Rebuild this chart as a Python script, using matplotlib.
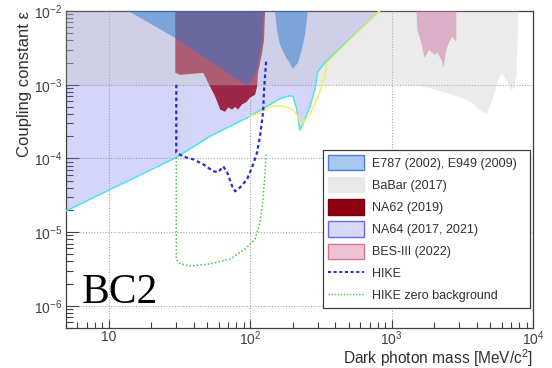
import matplotlib
matplotlib.use('Agg')
import matplotlib.pyplot as plt
from matplotlib.patches import Patch
from matplotlib.lines import Line2D

plt.rcParams['font.family'] = ['Liberation Sans', 'DejaVu Sans']
plt.rcParams['mathtext.fontset'] = 'custom'
plt.rcParams['mathtext.rm'] = 'Liberation Sans'
plt.rcParams['mathtext.it'] = 'Liberation Sans:italic'
plt.rcParams['mathtext.bf'] = 'Liberation Sans:bold'

# ---- data (mass in MeV, coupling eps) ----
# NA64 exclusion: lower edge (cyan line), region extends up to the top
na64_m = [5, 30.1, 52.2, 100, 138, 162.6, 191, 201, 214, 225, 244, 265, 287, 301, 337, 822]
na64_eps = [1.94e-5, 1.03e-4, 2.0e-4, 3.73e-4, 5.37e-4, 6.47e-4, 7.1e-4, 6.9e-4, 4.6e-4,
            2.41e-4, 3.37e-4, 5.05e-4, 8.6e-4, 1.5e-3, 1.98e-3, 1e-2]
# second (yellow) NA64 curve
na64b_m = [100, 117.5, 145, 176, 201, 218, 228.5, 265, 301, 337, 348, 822]
na64b_eps = [3.73e-4, 4.18e-4, 5.2e-4, 5.05e-4, 4.6e-4, 3.7e-4, 2.88e-4, 3.94e-4, 6.67e-4,
             1.28e-3, 1.98e-3, 1e-2]

# BaBar lower edge
babar_m = [5, 1500, 1853, 2440, 3162, 3715, 4169, 4670, 4900, 5310, 5575, 5950, 6250,
           6560, 7000, 7350, 7590, 7710, 7830]
babar_eps = [1e-3, 1e-3, 9.1e-4, 7.8e-4, 6.67e-4, 5.7e-4, 4.6e-4, 4.05e-4, 5.05e-4, 7.8e-4,
             1.1e-3, 1.45e-3, 1.28e-3, 1.1e-3, 8.6e-4, 9.4e-4, 1.45e-3, 3.7e-3, 1e-2]

# NA62 region outline
na62_m = [29.6, 29.6, 32.1, 46.7, 52.2, 56.7, 61.5, 66.7, 70.0, 74.7, 78.4, 82.3, 87.8,
          95.2, 100, 108.5, 112, 113.8, 121.5, 125.6, 127.6]
na62_eps = [1e-2, 1.45e-3, 1.36e-3, 1.45e-3, 9.4e-4, 6.9e-4, 4.6e-4, 4.3e-4, 4.9e-4, 4.6e-4,
            5.0e-4, 4.6e-4, 5.4e-4, 5.9e-4, 6.7e-4, 7.3e-4, 9.4e-4, 1.45e-3, 2.7e-3, 4.1e-3, 1e-2]

# E787/E949 regions
e787a_m = [13.8, 29.6, 95.2, 103, 112, 121.5, 123.6]
e787a_eps = [1e-2, 4.3e-3, 9.7e-4, 1.17e-3, 1.6e-3, 4.1e-3, 1e-2]
e787b_m = [150, 155, 162.6, 176, 201, 218, 232, 244, 252, 256]
e787b_eps = [1e-2, 5.5e-3, 3.5e-3, 2.54e-3, 1.64e-3, 1.98e-3, 2.97e-3, 4.7e-3, 7.6e-3, 1e-2]

# BES-III region
bes_m = [1500, 1524, 1626, 1708, 1853, 2010, 2110, 2250, 2325, 2440, 2560, 2690, 2870, 2870, 2870]
bes_eps = [1e-2, 5.5e-3, 3.7e-3, 2.32e-3, 2.97e-3, 2.54e-3, 2.7e-3, 2.18e-3, 1.7e-3,
           2.97e-3, 3.8e-3, 4.45e-3, 3.8e-3, 6.1e-3, 1e-2]

# HIKE projections
hike_m = [30.1, 30.1, 33.7, 39.7, 46.7, 54.9, 59.5, 64.6, 68.9, 74.7, 78.4, 85.1, 95.2,
          103.3, 112, 117.5, 123.6, 125.6, 129.8]
hike_eps = [1e-3, 1.2e-4, 1.06e-4, 9.7e-5, 8.3e-5, 6.7e-5, 6.5e-5, 7.8e-5, 6.5e-5, 4.2e-5,
            3.58e-5, 4.05e-5, 5.2e-5, 7.55e-5, 1.2e-4, 1.98e-4, 4.2e-4, 8.6e-4, 2.05e-3]
hike0_m = [30.1, 30.1, 32.1, 37.8, 52.2, 72.3, 92.2, 108.5, 117.5, 123.6, 127.6, 129.8]
hike0_eps = [1.03e-4, 4.3e-6, 3.7e-6, 3.47e-6, 3.7e-6, 4.3e-6, 5.9e-6, 8.0e-6, 1.36e-5,
             2.8e-5, 6.5e-5, 1.13e-4]

x_ticks = [10, 100, 1000, 10000]
x_labels = ['10', '$10^{2}$', '$10^{3}$', '$10^{4}$']
y_ticks = [1e-6, 1e-5, 1e-4, 1e-3, 1e-2]
y_labels = ['$10^{-6}$', '$10^{-5}$', '$10^{-4}$', '$10^{-3}$', '$10^{-2}$']

legend_labels = ['E787 (2002), E949 (2009)', 'BaBar (2017)', 'NA62 (2019)',
                 'NA64 (2017, 2021)', 'BES-III (2022)', 'HIKE', 'HIKE zero background']

# ---- plot ----
fig = plt.figure(figsize=(5.52, 3.68), dpi=100)
ax = fig.add_axes([66 / 552, 1 - 328 / 368, 467 / 552, 317 / 368])
ax.set_xscale('log')
ax.set_yscale('log')
ax.set_xlim(5, 1e4)
ax.set_ylim(5e-7, 1e-2)

ax.set_axisbelow(True)
ax.grid(True, which='major', color='#a8a8a8', linestyle=(0, (1, 1.5)), lw=0.8)

ax.fill(na62_m, na62_eps, color='#b00400', lw=0, zorder=1)
ax.fill_between(na64_m, na64_eps, 1e-2, color='#7676ee', alpha=0.3, lw=0, zorder=2)
ax.fill_between(babar_m, babar_eps, 1e-2, color='#c6c6c6', alpha=0.35, lw=0, zorder=3)
ax.fill(e787a_m, e787a_eps, color='#2375cf', alpha=0.48, lw=0, zorder=4)
ax.fill(e787b_m, e787b_eps, color='#2375cf', alpha=0.48, lw=0, zorder=4)
ax.fill(bes_m, bes_eps, color='#cd75a5', alpha=0.5, lw=0, zorder=4)

ax.plot(na64_m, na64_eps, color='#4ee6e6', lw=1.1, zorder=5)
ax.plot(na64b_m, na64b_eps, color='#f0f060', lw=1.0, zorder=5)

ax.plot(hike_m, hike_eps, color='#2b2bd6', lw=1.6, linestyle=(0, (1.6, 1.3)), zorder=6)
ax.plot(hike0_m, hike0_eps, color='#4cbf4c', lw=1.1, linestyle=(0, (1, 1.4)), zorder=6)

ax.set_xticks(x_ticks)
ax.set_xticklabels(x_labels)
ax.set_yticks(y_ticks)
ax.set_yticklabels(y_labels)
ax.tick_params(which='both', direction='in', top=False, right=False,
               colors='#404040', labelsize=10, width=0.8)
ax.xaxis.set_tick_params(which='major', length=6, pad=1.3)
ax.xaxis.set_tick_params(which='minor', length=4)
ax.yaxis.set_tick_params(which='major', length=9, pad=3)
ax.yaxis.set_tick_params(which='minor', length=5)
for sp in ax.spines.values():
    sp.set_color('#404040')
    sp.set_linewidth(0.9)

ax.set_xlabel('Dark photon mass [MeV/c$^{2}$]', loc='right', fontsize=11.2, color='#303030')
ax.xaxis.set_label_coords(1.0, -0.062)
ax.xaxis.label.set_va('top')
ax.set_ylabel('Coupling constant ε', loc='top', fontsize=12, color='#303030', labelpad=1)

ax.text(0.034, 0.079, 'BC2', transform=ax.transAxes, fontsize=30,
        family=['Liberation Serif', 'DejaVu Serif'], va='baseline', ha='left', zorder=7)

handles = [
    Patch(facecolor='#a9c7ef', edgecolor='#4a7fe0', lw=1),
    Patch(facecolor='#e8e8e8', edgecolor='#e8e8e8', lw=1),
    Patch(facecolor='#8e0010', edgecolor='#7a0010', lw=1),
    Patch(facecolor='#d8d8fc', edgecolor='#6a6af0', lw=1),
    Patch(facecolor='#efc3d3', edgecolor='#d8708f', lw=1),
    Line2D([], [], color='#2b2bd6', lw=1.4, linestyle=(0, (1.6, 1.3))),
    Line2D([], [], color='#4cbf4c', lw=1.0, linestyle=(0, (1, 1.2))),
]
leg = ax.legend(handles, legend_labels, loc='upper left', mode='expand',
                bbox_to_anchor=(323 / 552, 1 - 309 / 368, 207 / 552, 159 / 368),
                bbox_transform=fig.transFigure,
                fontsize=9, frameon=True, fancybox=False, framealpha=1,
                edgecolor='#404040', handlelength=2.9, handleheight=1.5,
                handletextpad=0.6, labelspacing=0.55, borderpad=0.4, borderaxespad=0)
leg.get_frame().set_linewidth(0.9)
leg.set_zorder(10)
for t in leg.get_texts():
    t.set_color('#303030')

fig.savefig('out.png', dpi=100)
